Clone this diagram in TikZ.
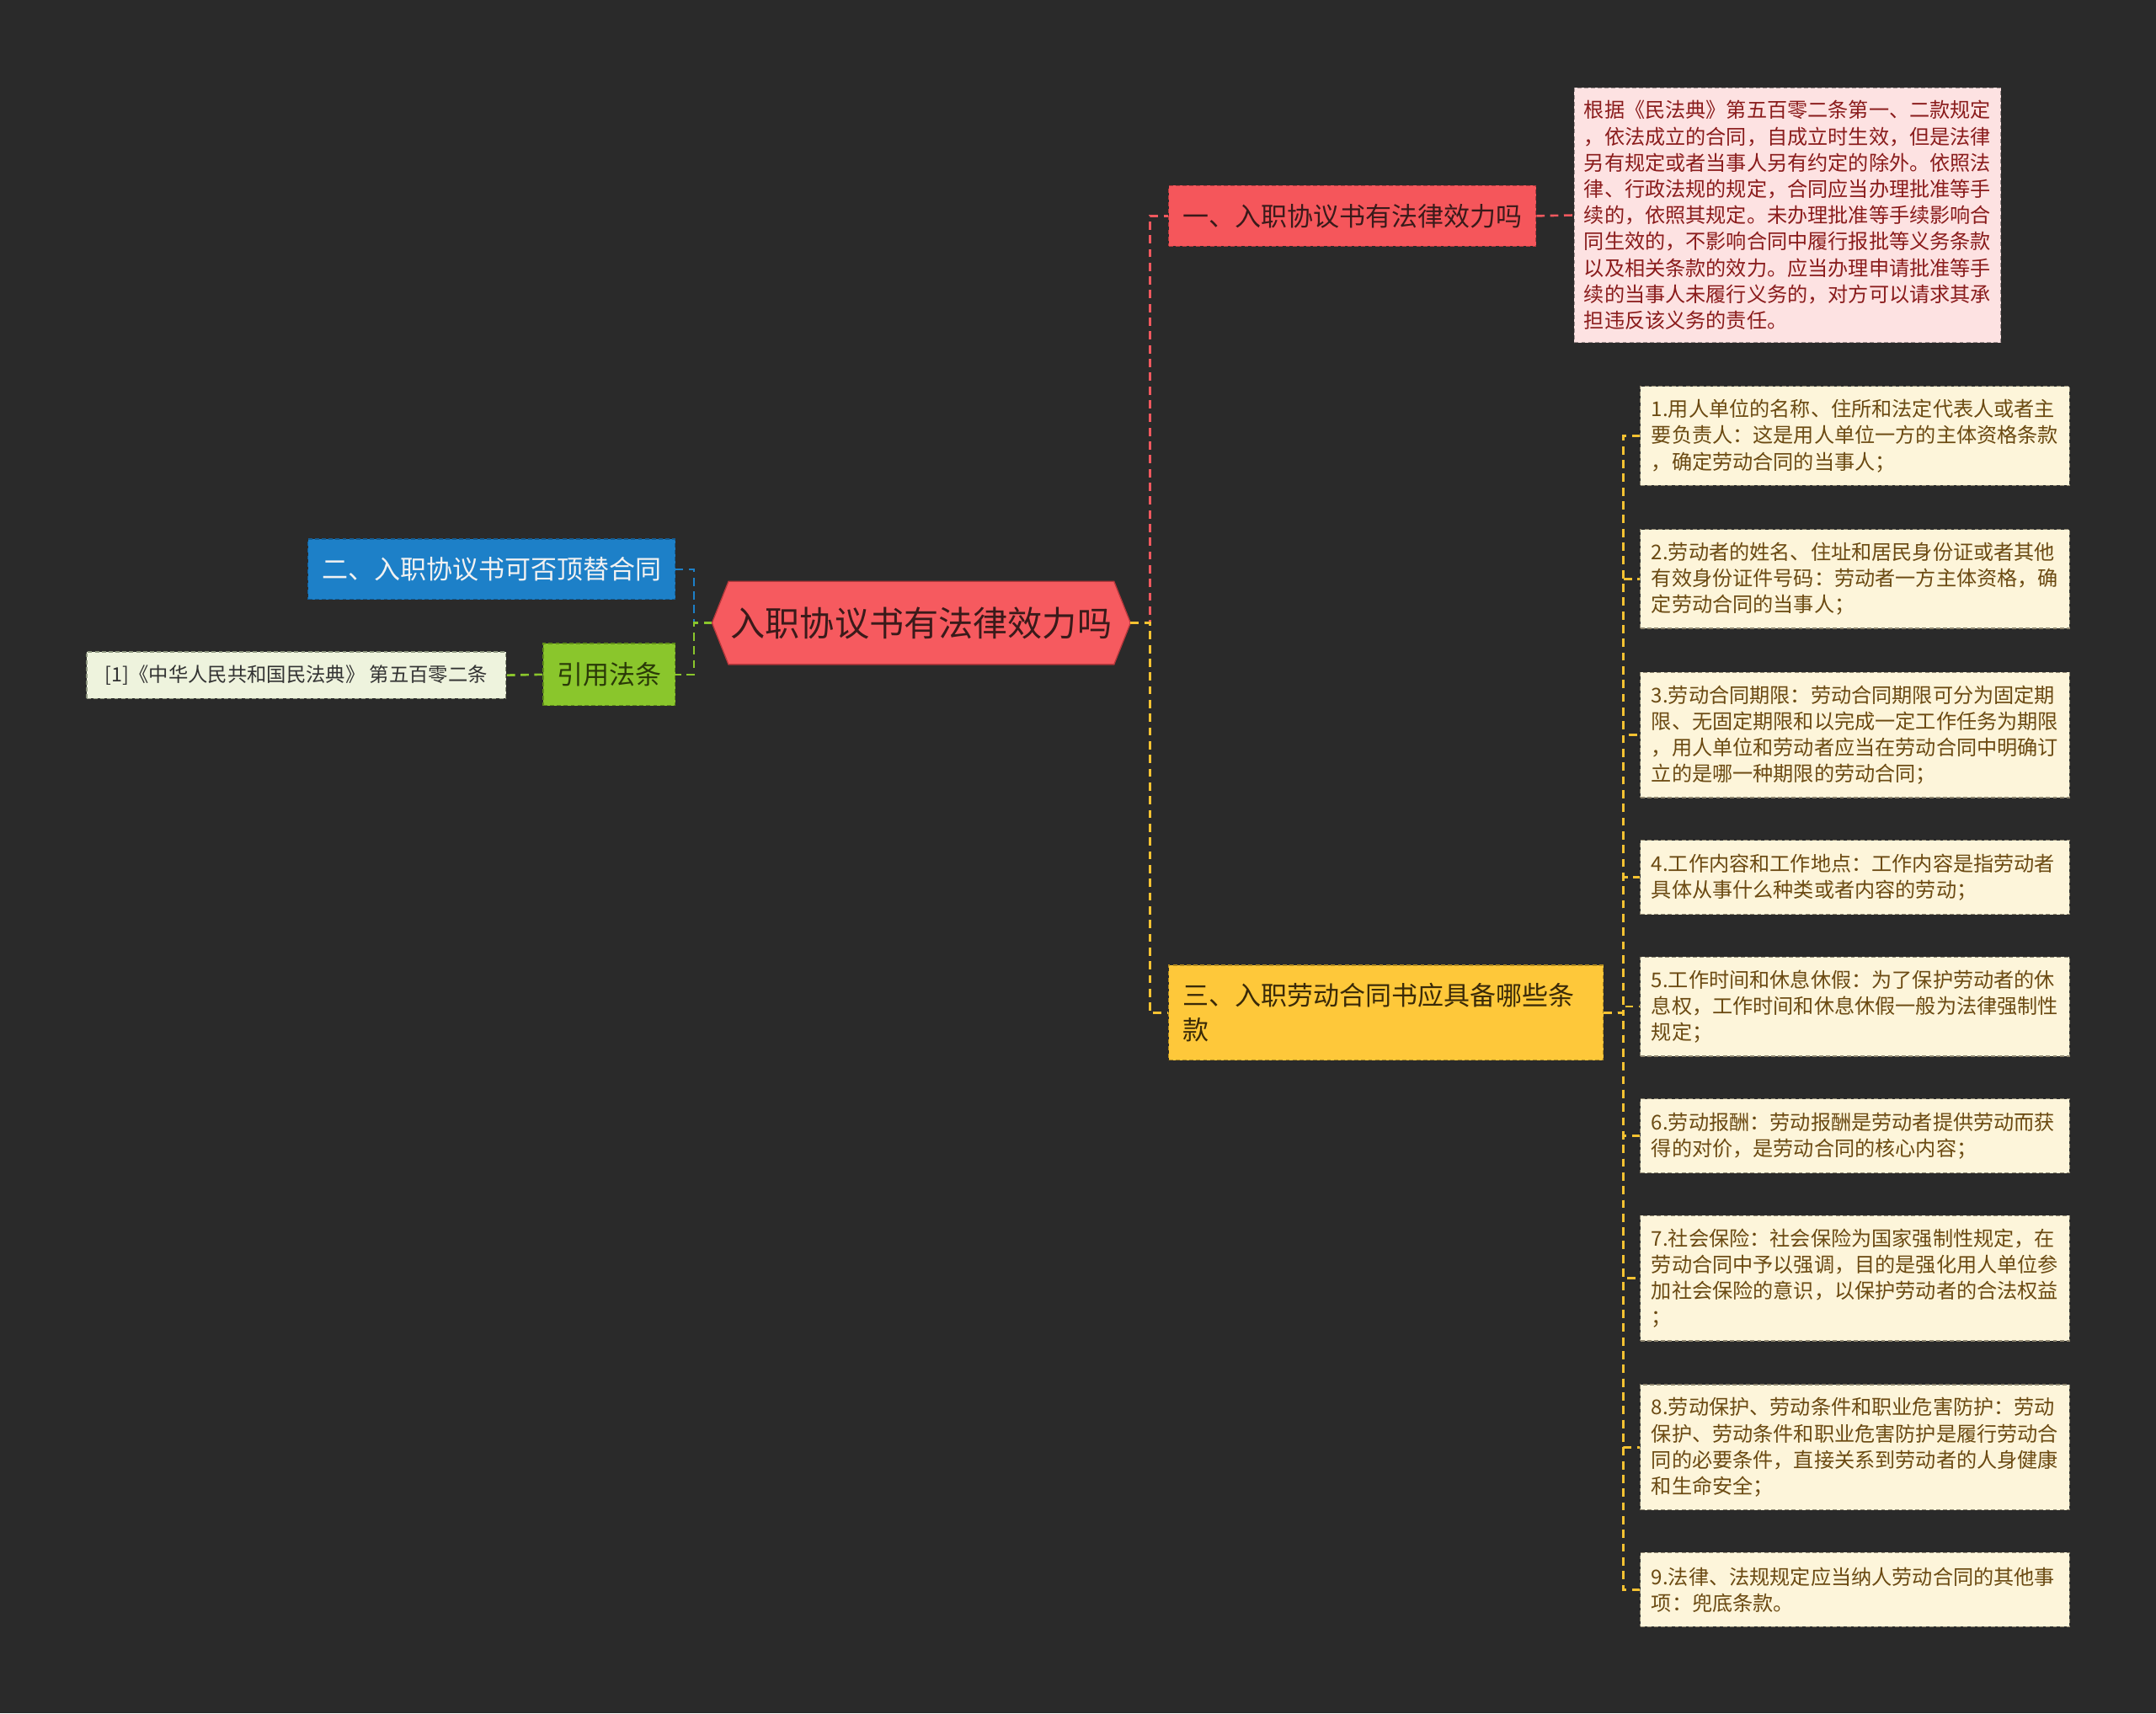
\documentclass[tikz,border=0pt]{standalone}
\usepackage{fontspec}
\setmainfont{Noto Sans CJK SC}
\usetikzlibrary{calc}
\definecolor{bgc}{HTML}{2A2A2A}
\definecolor{rootfill}{HTML}{F65A5F}
\definecolor{rootdraw}{HTML}{B8383C}
\definecolor{redfill}{HTML}{F5565B}
\definecolor{reddraw}{HTML}{B03A3E}
\definecolor{redtext}{HTML}{3A1A1A}
\definecolor{pinkfill}{HTML}{FDE2E2}
\definecolor{pinkdraw}{HTML}{A09090}
\definecolor{pinktext}{HTML}{8A1C1C}
\definecolor{bluefill}{HTML}{1D80C8}
\definecolor{bluedraw}{HTML}{145C92}
\definecolor{bluetext}{HTML}{F2F2F2}
\definecolor{greenfill}{HTML}{8AC62C}
\definecolor{greendraw}{HTML}{5E8A1A}
\definecolor{greentext}{HTML}{2A3A08}
\definecolor{citefill}{HTML}{EEF3DD}
\definecolor{citedraw}{HTML}{8E9680}
\definecolor{citetext}{HTML}{333333}
\definecolor{yelfill}{HTML}{FEC83A}
\definecolor{yeldraw}{HTML}{B08A20}
\definecolor{yeltext}{HTML}{3A2A08}
\definecolor{itemfill}{HTML}{FDF5DA}
\definecolor{itemdraw}{HTML}{8E8670}
\definecolor{itemtext}{HTML}{6B4A12}
\definecolor{lred}{HTML}{F0585E}
\definecolor{lyel}{HTML}{F5C232}
\definecolor{lblue}{HTML}{1D80C8}
\definecolor{lgreen}{HTML}{8AC62C}
\begin{document}
\begin{tikzpicture}[x=1pt,y=-1pt,
  base/.style={inner ysep=0pt, anchor=center, align=left, line width=0.8pt, dash pattern=on 3pt off 2pt},
  topic/.style={base, font=\fontsize{19}{25}\selectfont, inner xsep=9pt},
  leaf/.style={base, font=\fontsize{14.8}{19.1}\selectfont, text width=296pt},
  conn/.style={line width=1.6pt, dash pattern=on 6pt off 4pt},
  redline/.style={conn, draw=lred},
  yelline/.style={conn, draw=lyel},
  blueline/.style={conn, draw=lblue},
  greenline/.style={conn, draw=lgreen},
  itemstyle/.style={leaf, fill=itemfill, draw=itemdraw, text=itemtext, inner xsep=8pt}
]
\useasboundingbox (0,0) rectangle (1568,1246);
\fill[bgc] (0,0) rectangle (1568,1246);

% root
\node[inner sep=0pt, minimum width=304pt, minimum height=60pt] (root) at (670,453) {};
\filldraw[fill=rootfill, draw=rootdraw, line width=0.8pt]
  ($(root.north west)+(12,0)$) -- ($(root.north east)+(-12,0)$) -- (root.east)
  -- ($(root.south east)+(-12,0)$) -- ($(root.south west)+(12,0)$) -- (root.west) -- cycle;
\node[font=\fontsize{25.2}{30}\selectfont, text=redtext, inner sep=0pt] (roottext) at (root.center) {入职协议书有法律效力吗};

% level 1
\node[topic, fill=redfill, draw=reddraw, text=redtext, minimum width=267pt, minimum height=44pt] (n1) at (983.5,157) {一、入职协议书有法律效力吗};
\node[topic, fill=bluefill, draw=bluedraw, text=bluetext, minimum width=267pt, minimum height=44pt] (n2) at (357.5,414) {二、入职协议书可否顶替合同};
\node[topic, fill=greenfill, draw=greendraw, text=greentext, minimum width=96pt, minimum height=45pt] (ng) at (443,490.5) {引用法条};
\node[topic, fill=yelfill, draw=yeldraw, text=yeltext, text width=296pt, inner xsep=10pt, minimum height=69pt] (n3) at (1008,736.5) {三、入职劳动合同书应具备哪些条\\款};

% leaves
\node[leaf, fill=pinkfill, draw=pinkdraw, text=pinktext, inner xsep=7pt, minimum height=185pt] (d1) at (1300,156.5) {根据《民法典》第五百零二条第一、二款规定\\，依法成立的合同，自成立时生效，但是法律\\另有规定或者当事人另有约定的除外。依照法\\律、行政法规的规定，合同应当办理批准等手\\续的，依照其规定。未办理批准等手续影响合\\同生效的，不影响合同中履行报批等义务条款\\以及相关条款的效力。应当办理申请批准等手\\续的当事人未履行义务的，对方可以请求其承\\担违反该义务的责任。};

\node[base, font=\fontsize{14.3}{18}\selectfont, fill=citefill, draw=citedraw, text=citetext, inner xsep=8pt, minimum width=305pt, minimum height=34pt] (cite) at (215.5,491) {[1]《中华人民共和国民法典》 第五百零二条};

\node[itemstyle, minimum height=72pt] (i1) at (1349,317) {1.用人单位的名称、住所和法定代表人或者主\\要负责人：这是用人单位一方的主体资格条款\\，确定劳动合同的当事人；};
\node[itemstyle, minimum height=72pt] (i2) at (1349,421) {2.劳动者的姓名、住址和居民身份证或者其他\\有效身份证件号码：劳动者一方主体资格，确\\定劳动合同的当事人；};
\node[itemstyle, minimum height=91pt] (i3) at (1349,534.5) {3.劳动合同期限：劳动合同期限可分为固定期\\限、无固定期限和以完成一定工作任务为期限\\，用人单位和劳动者应当在劳动合同中明确订\\立的是哪一种期限的劳动合同；};
\node[itemstyle, minimum height=54pt] (i4) at (1349,638) {4.工作内容和工作地点：工作内容是指劳动者\\具体从事什么种类或者内容的劳动；};
\node[itemstyle, minimum height=72pt] (i5) at (1349,732) {5.工作时间和休息休假：为了保护劳动者的休\\息权，工作时间和休息休假一般为法律强制性\\规定；};
\node[itemstyle, minimum height=54pt] (i6) at (1349,826) {6.劳动报酬：劳动报酬是劳动者提供劳动而获\\得的对价，是劳动合同的核心内容；};
\node[itemstyle, minimum height=91pt] (i7) at (1349,929.5) {7.社会保险：社会保险为国家强制性规定，在\\劳动合同中予以强调，目的是强化用人单位参\\加社会保险的意识，以保护劳动者的合法权益\\；};
\node[itemstyle, minimum height=91pt] (i8) at (1349,1052.5) {8.劳动保护、劳动条件和职业危害防护：劳动\\保护、劳动条件和职业危害防护是履行劳动合\\同的必要条件，直接关系到劳动者的人身健康\\和生命安全；};
\node[itemstyle, minimum height=54pt] (i9) at (1349,1156) {9.法律、法规规定应当纳人劳动合同的其他事\\项：兜底条款。};

% connectors
\draw[redline] (root.east) -- ++(14,0) |- (n1.west);
\draw[yelline] (root.east) -- ++(14,0) |- (n3.west);
\draw[blueline] (root.west) -- ++(-13,0) |- (n2.east);
\draw[greenline] (root.west) -- ++(-13,0) |- (ng.east);
\draw[redline] (n1.east) -- (d1.west);
\draw[greenline] (ng.west) -- (cite.east);
\foreach \i in {i1,i2,i3,i4,i5,i6,i7,i8,i9}
  \draw[yelline] (n3.east) -- ++(14,0) |- (\i.west);
\end{tikzpicture}
\end{document}
